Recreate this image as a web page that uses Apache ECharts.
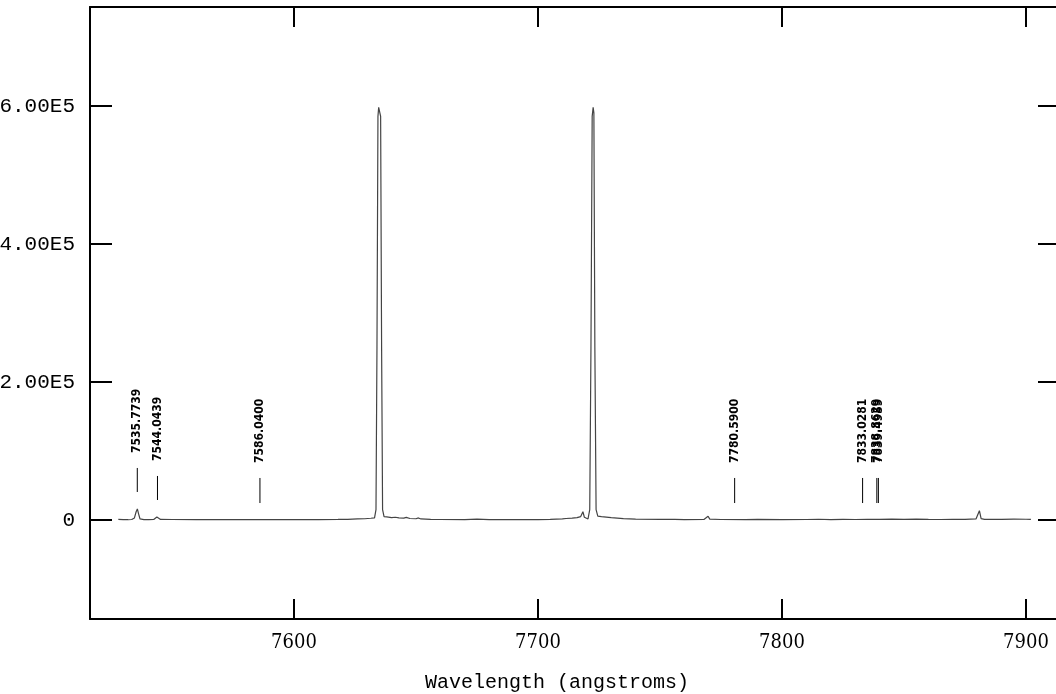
<!DOCTYPE html>
<html>
<head>
<meta charset="utf-8">
<script src="https://cdn.jsdelivr.net/npm/echarts@6/dist/echarts.min.js"></script>
<style>
html,body{margin:0;padding:0;background:#fff;}
#chart{width:1056px;height:694px;}
</style>
</head>
<body>
<div id="chart"></div>
<script>
// Spectrum (wavelength in angstroms, flux)
var specWave = [7528.0,7530.0,7532.0,7533.5,7534.6,7535.3,7535.8,7536.3,7536.9,7538.5,7540.5,7542.5,7543.3,7543.8,7544.4,7545.3,
  7550,7560,7570,7580,7590,7600,7610,7618,7622,7626,7629,7631.5,7633.0,7633.6,7634.0,7634.4,7634.7,7635.2,7635.5,7635.9,7636.3,7636.9,
  7638,7640,7641.5,7643,7645,7646,7647.5,7650,7651,7652,7656,7660,7670,7675,7680,7690,7700,7705,7710,7711.5,7714,7716,7717.5,7718.4,
  7719,7719.6,7720.5,7721.2,7721.7,7722.2,7722.6,7722.9,7723.3,7723.8,7724.5,7726,7730,7735,7740,7750,7756,7760,7768,7769.7,7770.4,
  7775,7785,7790,7800,7810,7815,7820,7825,7830,7835,7840,7845,7850,7855,7860,7865,7870,7875,7879.5,7880.9,7881.6,7883,7890,7895,7900,7902];
var specFlux = [800,600,400,700,3000,12000,16000,9000,1500,600,500,700,2500,4300,2200,800,
  700,600,500,500,500,500,600,800,1000,1500,1800,2500,3000,15000,250000,585000,598000,598000,585000,250000,15000,5000,
  4500,3500,4000,3000,2800,3800,2200,1800,3000,1500,1000,700,600,1200,600,500,600,800,1500,2200,2800,3500,5000,12000,
  4000,2500,1500,15000,250000,585000,598000,590000,250000,15000,5500,4800,3500,2000,1200,800,1000,600,800,5500,1200,
  700,600,800,600,700,1100,600,900,700,1000,800,1200,900,1300,900,700,800,900,1500,13500,2000,900,1000,1200,1100,1000];

// Identified line markers
var markWave = [7535.7739, 7544.0439, 7586.0400, 7780.5900, 7833.0281, 7838.8629, 7839.4959];
var markLabels = ['7535.7739', '7544.0439', '7586.0400', '7780.5900', '7833.0281', '7838.8629', '7839.4959'];
var markBottom = [40600, 29000, 24600, 24600, 24600, 24600, 24600];
var markTop = [75400, 63800, 60900, 60900, 60900, 60900, 60900];

// Axis ticks
var xTicks = [7600, 7700, 7800, 7900];
var yTicks = [0, 200000, 400000, 600000];
var yTickLabels = ['0', '2.00E5', '4.00E5', '6.00E5'];

var xMin = 7516.39, xMax = 7913.93;
var yMin = -143478, yMax = 743478;

var specData = specWave.map(function (w, i) { return [w, specFlux[i]]; });
var markData = markWave.map(function (w, i) { return [w, markBottom[i], markTop[i]]; });

var chart = echarts.init(document.getElementById('chart'));

function frameAxis(extra) {
  var base = {
    type: 'value',
    axisLine: { show: true, onZero: false, lineStyle: { color: '#000', width: 2 } },
    axisTick: { show: true, inside: true, length: 20, lineStyle: { color: '#000', width: 2 } },
    splitLine: { show: false },
    axisLabel: { show: false }
  };
  for (var k in extra) base[k] = extra[k];
  return base;
}

chart.setOption({
  animation: false,
  backgroundColor: '#fff',
  grid: { left: 90, top: 7, width: 970, height: 612, containLabel: false, outerBoundsMode: 'none' },
  xAxis: [
    frameAxis({
      position: 'bottom', min: xMin, max: xMax,
      axisTick: { show: true, inside: true, length: 20, customValues: xTicks, lineStyle: { color: '#000', width: 2 } },
      axisLabel: { show: true, customValues: xTicks, margin: 14, color: '#000',
        fontFamily: '"DejaVu Serif Condensed", "DejaVu Serif", serif', fontSize: 20,
        formatter: function (v) { return String(v); } },
      name: 'Wavelength (angstroms)', nameLocation: 'middle', nameGap: 54,
      nameTextStyle: { color: '#000', fontFamily: '"Liberation Mono", monospace', fontSize: 20, padding: [0, 36, 0, 0] }
    }),
    frameAxis({
      position: 'top', min: xMin, max: xMax,
      axisTick: { show: true, inside: true, length: 20, customValues: xTicks, lineStyle: { color: '#000', width: 2 } }
    })
  ],
  yAxis: [
    frameAxis({
      position: 'left', min: yMin, max: yMax,
      axisTick: { show: true, inside: true, length: 22, customValues: yTicks, lineStyle: { color: '#000', width: 2 } },
      axisLabel: { show: true, customValues: yTicks, margin: 15, color: '#000',
        fontFamily: '"Liberation Mono", monospace', fontSize: 21,
        formatter: function (v) { var i = yTicks.indexOf(v); return i >= 0 ? yTickLabels[i] : ''; } }
    }),
    frameAxis({
      position: 'right', min: yMin, max: yMax,
      axisTick: { show: true, inside: true, length: 22, customValues: yTicks, lineStyle: { color: '#000', width: 2 } }
    })
  ],
  series: [
    {
      type: 'line', data: specData, showSymbol: false, symbol: 'none',
      lineStyle: { color: '#444', width: 1.2 }, xAxisIndex: 0, yAxisIndex: 0
    },
    {
      type: 'custom', data: markData, xAxisIndex: 0, yAxisIndex: 0,
      renderItem: function (params, api) {
        var w = api.value(0), b = api.value(1), t = api.value(2);
        var p0 = api.coord([w, b]), p1 = api.coord([w, t]);
        return {
          type: 'group',
          children: [
            { type: 'line', shape: { x1: p0[0], y1: p0[1], x2: p1[0], y2: p1[1] },
              style: { stroke: '#000', lineWidth: 1 } },
            { type: 'text', x: p1[0], y: p1[1] - 15, rotation: Math.PI / 2,
              style: { text: markLabels[params.dataIndex], fill: '#000',
                font: 'bold 12px "Liberation Sans Narrow", "DejaVu Sans Condensed", sans-serif',
                align: 'left', verticalAlign: 'middle' } }
          ]
        };
      }
    }
  ]
});
</script>
</body>
</html>
